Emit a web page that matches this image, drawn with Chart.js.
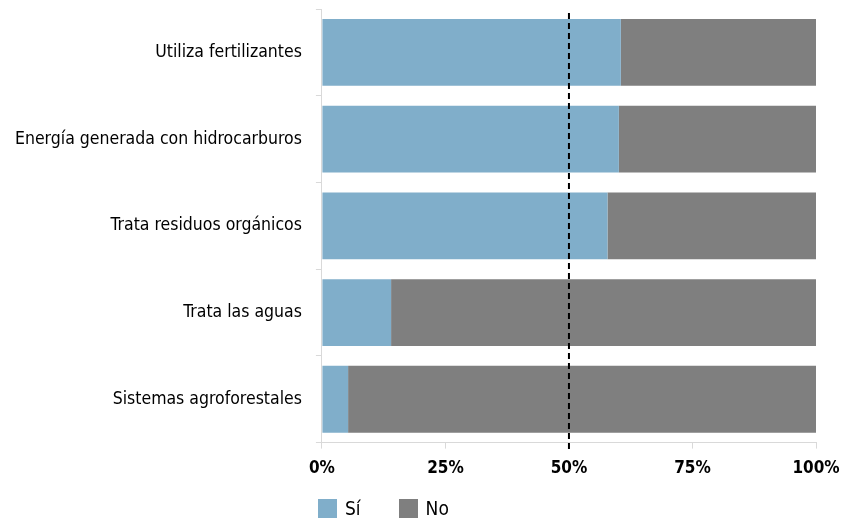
<!DOCTYPE html>
<html lang="es">
<head>
    <meta charset="UTF-8">
    <title>Prácticas ambientales</title>
    <script src="https://cdn.jsdelivr.net/npm/chart.js"></script>
    <style>
        body { margin: 0; background: #fff; }
        .wrap { position: relative; width: 844px; height: 520px; }
        #leyenda {
            position: absolute; left: 318px; top: 497px;
            display: flex;
            font-family: 'Liberation Sans Narrow', 'DejaVu Sans Condensed', sans-serif;
            font-size: 19px; color: #000;
        }
        #leyenda .item { display: flex; align-items: center; margin-right: 38px; }
        #leyenda .caja { width: 19px; height: 19px; margin-right: 8px; }
    </style>
</head>
<body>
    <div class="wrap">
        <canvas id="chart"></canvas>
        <div id="leyenda"></div>
    </div>

    <script>
        const categorias = ['Utiliza fertilizantes', 'Energía generada con hidrocarburos', 'Trata residuos orgánicos', 'Trata las aguas', 'Sistemas agroforestales'];
        const si = [60.5, 60.1, 57.8, 14.0, 5.3];
        const no = [39.5, 39.9, 42.2, 86.0, 94.7];
        const ticksX = [0, 25, 50, 75, 100];
        const lineaRef = 50;

        const fuente = "'Liberation Sans Narrow', 'DejaVu Sans Condensed', sans-serif";

        // linea discontinua en el 50%
        const lineaPlugin = {
            id: 'lineaRef',
            afterDatasetsDraw(chart) {
                const ctx = chart.ctx;
                const x = chart.scales.x.getPixelForValue(lineaRef);
                const area = chart.chartArea;
                ctx.save();
                ctx.strokeStyle = '#000';
                ctx.lineWidth = 2;
                ctx.setLineDash([6, 4]);
                ctx.beginPath();
                ctx.moveTo(x, area.top + 4);
                ctx.lineTo(x, area.bottom + 9);
                ctx.stroke();
                ctx.restore();
            }
        };

        const chart = new Chart(document.getElementById('chart'), {
            type: 'bar',
            data: {
                labels: categorias,
                datasets: [
                    { label: 'Sí', data: si, backgroundColor: '#80AECA' },
                    { label: 'No', data: no, backgroundColor: '#7F7F7F' }
                ]
            },
            options: {
                indexAxis: 'y',
                responsive: true,
                maintainAspectRatio: false,
                animation: false,
                datasets: { bar: { categoryPercentage: 1, barPercentage: 0.77 } },
                layout: { padding: { top: 9, right: 28, left: 1, bottom: 31 } },
                scales: {
                    x: {
                        stacked: true,
                        min: 0,
                        max: 100,
                        afterBuildTicks(axis) { axis.ticks = ticksX.map(v => ({ value: v })); },
                        afterFit(axis) { axis.paddingLeft = 0; axis.paddingRight = 0; },
                        grid: { drawOnChartArea: false, color: '#d9d9d9', tickLength: 6 },
                        border: { color: '#d9d9d9' },
                        ticks: {
                            color: '#000',
                            padding: 10,
                            font: { family: fuente, size: 17, weight: 'bold' },
                            callback: v => v + '%'
                        }
                    },
                    y: {
                        stacked: true,
                        afterFit(axis) { axis.paddingTop = 0; axis.paddingBottom = 0; },
                        grid: { drawOnChartArea: false, color: '#d9d9d9', tickLength: 6 },
                        border: { color: '#d9d9d9' },
                        ticks: {
                            color: '#000',
                            padding: 14,
                            font: { family: fuente, size: 17.5 }
                        }
                    }
                },
                plugins: {
                    legend: { display: false },
                    tooltip: { enabled: false }
                }
            },
            plugins: [lineaPlugin]
        });

        // leyenda en HTML a partir de los datasets
        const leyenda = document.getElementById('leyenda');
        chart.data.datasets.forEach(ds => {
            const item = document.createElement('div');
            item.className = 'item';
            const caja = document.createElement('span');
            caja.className = 'caja';
            caja.style.background = ds.backgroundColor;
            const texto = document.createElement('span');
            texto.textContent = ds.label;
            item.appendChild(caja);
            item.appendChild(texto);
            leyenda.appendChild(item);
        });
    </script>
</body>
</html>
